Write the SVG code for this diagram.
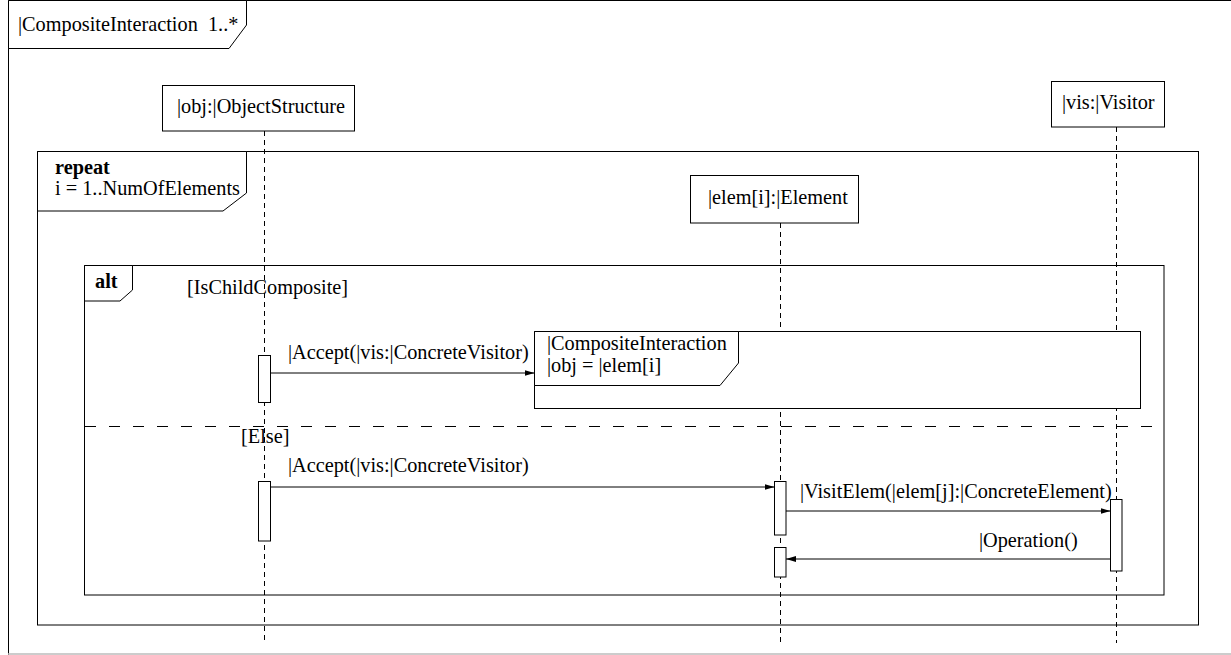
<svg xmlns="http://www.w3.org/2000/svg" width="1231" height="655" viewBox="0 0 1231 655">
  <style>
    .b { font-weight: bold; }
    .box { fill: #fff; stroke: #000; stroke-width: 1; }
    .frame { fill: none; stroke: #000; stroke-width: 1; }
    .tab { fill: #fff; stroke: #000; stroke-width: 1; }
    .life { stroke: #000; stroke-width: 1; stroke-dasharray: 5 4; fill: none; }
    .sep { stroke: #000; stroke-width: 1; stroke-dasharray: 11 13; fill: none; }
    .msg { stroke: #000; stroke-width: 1; fill: none; marker-end: url(#arrow); }
    .act { fill: #fff; stroke: #000; stroke-width: 1; }
  </style>
  <defs>
    <marker id="arrow" viewBox="0 0 10 6" refX="10" refY="3" markerWidth="10" markerHeight="6" markerUnits="userSpaceOnUse" orient="auto">
      <path d="M0,0 L10,3 L0,6 Z" fill="#000"/>
    </marker>
  </defs>

  <rect width="1231" height="655" fill="#fff"/>

  <g font-family="Liberation Serif, Times New Roman, serif" font-size="20.3" fill="#000">

  <!-- outer interaction frame -->
  <g id="frame-main">
    <path class="frame" d="M8.5,655 L8.5,0.5 L1240,0.5"/>
    <line x1="8" y1="654" x2="1231" y2="654" stroke="#bbb" stroke-width="1.5"/>
    <path class="tab" d="M8.5,0.5 L246.5,0.5 L246.5,25 L229,48.5 L8.5,48.5 Z"/>
    <text x="18" y="31" xml:space="preserve">|CompositeInteraction  1..*</text>
  </g>

  <!-- lifelines -->
  <g id="lifelines">
    <line class="life" x1="264.5" y1="131" x2="264.5" y2="643"/>
    <line class="life" x1="780.5" y1="223" x2="780.5" y2="643"/>
    <line class="life" x1="1116.5" y1="127" x2="1116.5" y2="643"/>
  </g>

  <!-- combined fragment: repeat -->
  <g id="frag-repeat">
    <rect class="frame" x="37.5" y="151.5" width="1161" height="473.5"/>
    <path class="tab" d="M37.5,151.5 L246.5,151.5 L246.5,193 L223,211 L37.5,211 Z"/>
    <text class="b" x="55" y="173.5">repeat</text>
    <text x="55" y="194.5">i = 1..NumOfElements</text>
  </g>

  <!-- combined fragment: alt -->
  <g id="frag-alt">
    <rect class="frame" x="84.5" y="265.5" width="1079.5" height="329.5"/>
    <path class="tab" d="M84.5,265.5 L132.5,265.5 L132.5,290 L120,301 L84.5,301 Z"/>
    <text class="b" x="95" y="288">alt</text>
    <text x="187" y="294">[IsChildComposite]</text>
    <line class="sep" x1="85" y1="426.5" x2="1164" y2="426.5"/>
    <text x="241" y="443">[Else]</text>
  </g>

  <!-- lifeline heads -->
  <g id="obj">
    <rect class="box" x="162.5" y="85.5" width="192" height="45.5"/>
    <text x="177" y="113">|obj:|ObjectStructure</text>
  </g>
  <g id="elem">
    <rect class="box" x="690.5" y="175.5" width="168" height="47.5"/>
    <text x="708" y="204">|elem[i]:|Element</text>
  </g>
  <g id="vis">
    <rect class="box" x="1051.5" y="81.5" width="113" height="45.5"/>
    <text x="1062" y="109">|vis:|Visitor</text>
  </g>

  <!-- interaction use -->
  <g id="ref-composite">
    <rect class="box" x="534.5" y="331.5" width="606" height="77"/>
    <path class="tab" d="M534.5,331.5 L738.5,331.5 L738.5,363 L720,385.5 L534.5,385.5 Z"/>
    <text x="547" y="350">|CompositeInteraction</text>
    <text x="547" y="372">|obj = |elem[i]</text>
  </g>

  <!-- activations -->
  <g id="activations">
    <rect class="act" x="258.5" y="355.5" width="12" height="47"/>
    <rect class="act" x="258.5" y="481.5" width="12" height="59.5"/>
    <rect class="act" x="774.5" y="481.5" width="11.5" height="53.5"/>
    <rect class="act" x="774.5" y="547.5" width="11.5" height="29.5"/>
    <rect class="act" x="1110.5" y="499.5" width="11.5" height="71.5"/>
  </g>

  <!-- messages -->
  <g id="connectors">
    <line class="msg" x1="270.5" y1="373" x2="534.5" y2="373"/>
    <text x="288" y="359">|Accept(|vis:|ConcreteVisitor)</text>
    <line class="msg" x1="270.5" y1="487" x2="774.5" y2="487"/>
    <text x="288" y="472">|Accept(|vis:|ConcreteVisitor)</text>
    <line class="msg" x1="786" y1="511" x2="1110.5" y2="511"/>
    <text x="800" y="498">|VisitElem(|elem[j]:|ConcreteElement)</text>
    <line class="msg" x1="1110.5" y1="559" x2="786" y2="559"/>
    <text x="979" y="547">|Operation()</text>
  </g>

  </g>
</svg>
